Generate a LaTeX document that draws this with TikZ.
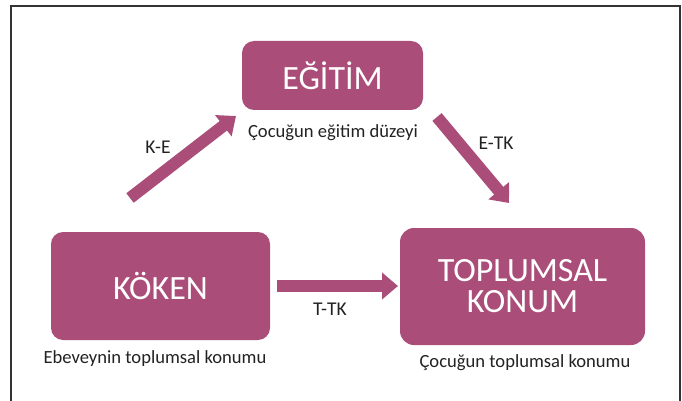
\documentclass[tikz,border=0pt]{standalone}
\usepackage{fontspec}
\setmainfont{Carlito}
\usetikzlibrary{arrows.meta}
\definecolor{plum}{HTML}{AA4D79}
\definecolor{txt}{HTML}{222222}
\definecolor{frame}{HTML}{333333}
\begin{document}
\begin{tikzpicture}[x=1pt,y=-1pt,
  box/.style={fill=plum, rounded corners=12pt, text=white,
    font=\fontsize{34}{31}\selectfont, align=center, inner sep=0pt},
  lbl/.style={text=txt, font=\fontsize{18.6}{20}\selectfont, inner sep=0pt},
  slbl/.style={text=txt, font=\fontsize{19.5}{21}\selectfont, inner sep=0pt},
  fat/.style={draw=plum, line width=12pt, -{Triangle[length=16pt,width=26pt]}}]
\useasboundingbox (0,0) rectangle (682,401);
\draw[line width=1.5pt, frame] (11,401) -- (11,6) -- (680,6) -- (680,401);

\node[box, minimum width=181pt, minimum height=69pt] (edu) at (332.5,75.5) {EĞİTİM};
\node[box, minimum width=219pt, minimum height=108pt] (koken) at (160.5,286) {KÖKEN};
\node[box, minimum width=245pt, minimum height=117pt, rounded corners=14pt] (konum) at (522.5,286.5) {TOPLUMSAL\\KONUM};

\node[lbl] (edulbl) at (333,133) {Çocuğun eğitim düzeyi};
\node[lbl] (kokenlbl) at (155,359) {Ebeveynin toplumsal konumu};
\node[lbl] (konumlbl) at (525,363) {Çocuğun toplumsal konumu};
\node[slbl] (ke) at (158,147) {K-E};
\node[slbl] (etk) at (496,143) {E-TK};
\node[slbl] (ttk) at (330,309) {T-TK};

\coordinate (keA) at (130,198);
\coordinate (keB) at (236,116);
\coordinate (etkA) at (437,117);
\coordinate (etkB) at (509,203);
\coordinate (ttkA) at (277,286);
\coordinate (ttkB) at (398,286);

\draw[fat] (keA) -- (keB);
\draw[fat] (etkA) -- (etkB);
\draw[fat] (ttkA) -- (ttkB);
\end{tikzpicture}
\end{document}
